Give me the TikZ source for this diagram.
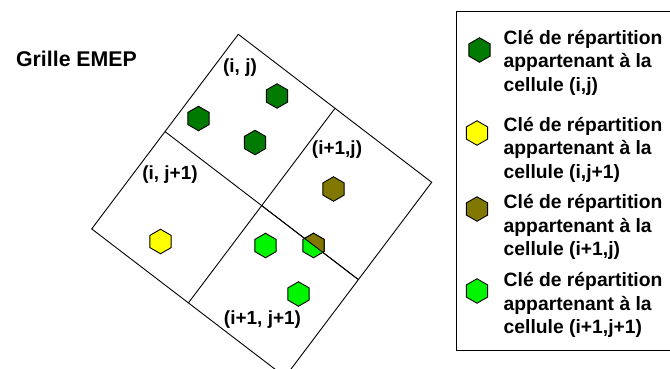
\documentclass[tikz,border=0pt]{standalone}
\usepackage{fontspec}
\setmainfont{Liberation Sans}
\usetikzlibrary{shapes.geometric}
\definecolor{dkgreen}{RGB}{0,122,0}
\definecolor{olivec}{RGB}{128,120,0}
\definecolor{yel}{RGB}{255,255,0}
\definecolor{brgreen}{RGB}{0,245,0}
\tikzset{
  hex/.style={regular polygon, regular polygon sides=6, shape border rotate=90,
    minimum size=24.5pt, inner sep=0pt, draw=black, line width=0.9pt},
  gridline/.style={draw=black, line width=0.9pt},
  lbl/.style={font=\fontsize{19}{22}\selectfont\bfseries, inner sep=0pt},
  legtxt/.style={font=\fontsize{19.3}{23.5}\selectfont\bfseries, align=left, inner sep=0pt, anchor=west}
}
\begin{document}
\begin{tikzpicture}[x=1pt,y=-1pt]
\useasboundingbox (0,0) rectangle (670,369);
\clip (0,0) rectangle (670,369);
% grid corners
\coordinate (T) at (238.3,34.3);
\coordinate (mTR) at (335,108.3);
\coordinate (R) at (431.7,182.3);
\coordinate (mTL) at (165,131.6);
\coordinate (C) at (261.7,205.6);
\coordinate (mRB) at (358.4,279.6);
\coordinate (L) at (91.7,228.9);
\coordinate (mLB) at (188.4,302.9);
\coordinate (B) at (285.1,376.9);
\draw[gridline] (T) -- (R) -- (B) -- (L) -- cycle;
\draw[gridline] (mTL) -- (C) -- (mRB);
\draw[gridline] (mTR) -- (C) -- (mLB);
% title
\node[font=\fontsize{21.3}{24}\selectfont\bfseries, inner sep=0pt] (title) at (76.5,59) {Grille EMEP};
% cell labels
\node[lbl] (lij) at (240,68) {(i, j)};
\node[lbl] (li1j) at (337,150) {(i+1,j)};
\node[lbl] (lij1) at (170,174.5) {(i, j+1)};
\node[lbl] (li1j1) at (262.5,320) {(i+1, j+1)};
% hexagons in grid
\node[hex, fill=dkgreen] (h1) at (277,96) {};
\node[hex, fill=dkgreen] (h2) at (198.5,118.5) {};
\node[hex, fill=dkgreen] (h3) at (255,142.5) {};
\node[hex, fill=olivec] (h4) at (333.5,189) {};
\node[hex, fill=yel] (h5) at (160.5,241.5) {};
\node[hex, fill=brgreen] (h6) at (265.5,245.5) {};
\node[hex, fill=brgreen] (h7) at (313.5,245.5) {};
\begin{scope}
  \clip (mTR) -- (R) -- (mRB) -- (C) -- cycle;
  \node[hex, fill=olivec] (h7b) at (313.5,245.5) {};
\end{scope}
\draw[gridline] (C) -- (mRB);
\node[hex, fill=brgreen] (h8) at (298.5,294) {};
% legend
\draw[line width=1pt] (456,11.5) rectangle (680,350.5);
\node[hex, fill=dkgreen] (k1) at (479.5,50) {};
\node[hex, fill=yel] (k2) at (477,133) {};
\node[hex, fill=olivec] (k3) at (477,209) {};
\node[hex, fill=brgreen] (k4) at (477,291) {};
\node[legtxt] (t1) at (503.5,62.5) {Clé de répartition\\appartenant à la\\cellule (i,j)};
\node[legtxt] (t2) at (503.5,149.5) {Clé de répartition\\appartenant à la\\cellule (i,j+1)};
\node[legtxt] (t3) at (503.5,227) {Clé de répartition\\appartenant à la\\cellule (i+1,j)};
\node[legtxt] (t4) at (503.5,305) {Clé de répartition\\appartenant à la\\cellule (i+1,j+1)};
\end{tikzpicture}
\end{document}
